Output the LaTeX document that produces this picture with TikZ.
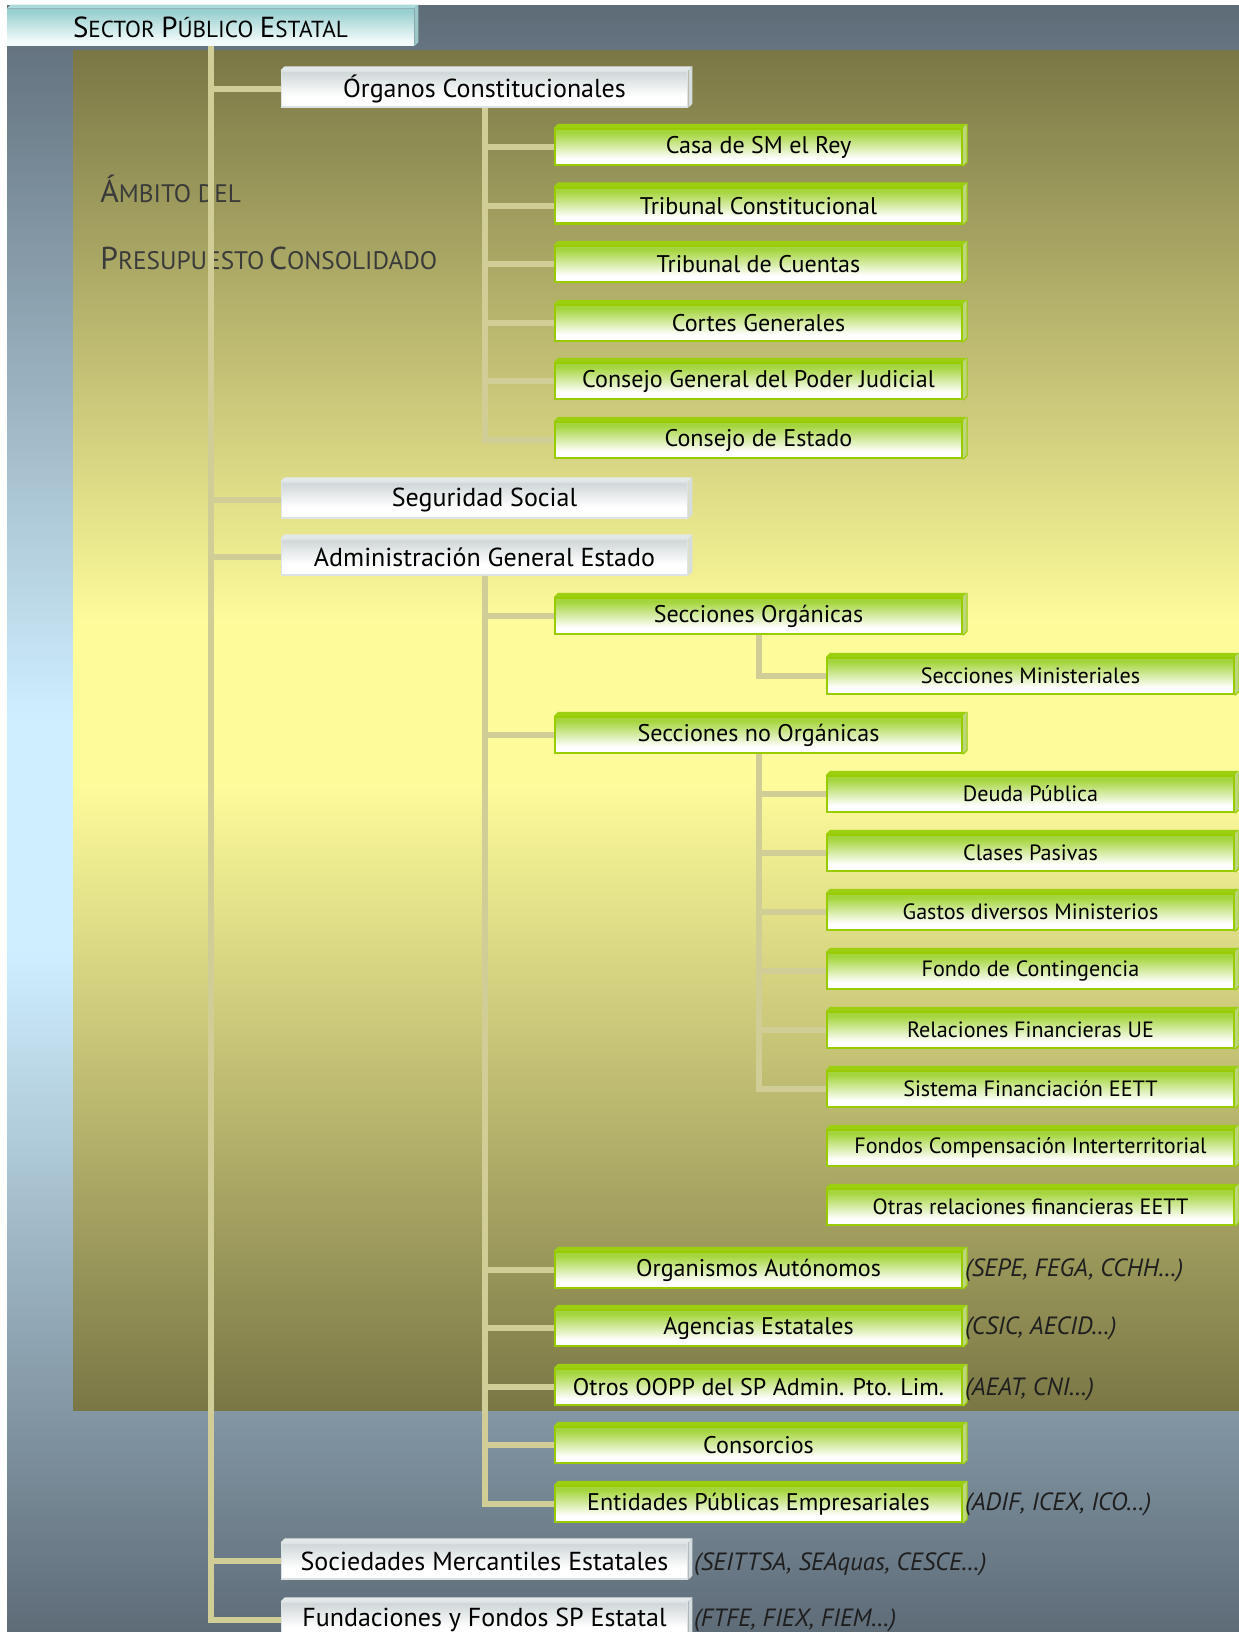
\documentclass[tikz,border=0pt]{standalone}
\usepackage{fontspec}
\setmainfont{PT Sans}
\definecolor{slate}{HTML}{5E6C78}
\definecolor{skyblue}{HTML}{CFEFFF}
\definecolor{olive}{HTML}{7A7746}
\definecolor{paleyellow}{HTML}{FDFB9A}
\definecolor{khaki}{HTML}{D0CD97}
\definecolor{leaf}{HTML}{99CC00}
\definecolor{leafpale}{HTML}{A5D53C}
\definecolor{leaftop}{HTML}{9BCF10}
\definecolor{leafside}{HTML}{BBD77A}
\definecolor{greyblue}{HTML}{D2D9DA}
\definecolor{greyline}{HTML}{DDE3E4}
\definecolor{greytop}{HTML}{E3E8E9}
\definecolor{greyside}{HTML}{D6DDDE}
\definecolor{teal}{HTML}{98CFCF}
\definecolor{tealpale}{HTML}{F2FAFA}
\definecolor{tealtop}{HTML}{ADDADA}
\definecolor{tealside}{HTML}{9CC8C8}
\definecolor{titlegrey}{HTML}{3A3A3A}
\definecolor{notegrey}{HTML}{1E1E1E}
\pgfdeclareverticalshading{framefade}{100bp}{color(0bp)=(slate); color(25bp)=(slate); color(46bp)=(skyblue); color(53bp)=(skyblue); color(75bp)=(slate); color(100bp)=(slate)}
\pgfdeclareverticalshading{ambitfade}{100bp}{color(0bp)=(olive); color(25bp)=(olive); color(48bp)=(paleyellow); color(54bp)=(paleyellow); color(75bp)=(olive); color(100bp)=(olive)}
\pgfdeclareverticalshading{greenfade}{100bp}{color(0bp)=(white); color(34bp)=(white); color(70bp)=(leafpale); color(100bp)=(leafpale)}
\pgfdeclareverticalshading{greyfade}{100bp}{color(0bp)=(white); color(40bp)=(white); color(72bp)=(greyblue); color(100bp)=(greyblue)}
\pgfdeclareverticalshading{tealfade}{100bp}{color(0bp)=(tealpale); color(32bp)=(tealpale); color(72bp)=(teal); color(100bp)=(teal)}
% fake small caps: big letter, rest, big size, small size
\newcommand{\scword}[4]{{\fontsize{#3}{#3}\selectfont#1}{\fontsize{#4}{#3}\selectfont#2}}
\begin{document}
\begin{tikzpicture}[x=0.02cm,y=-0.02cm,
  conn/.style={draw=khaki,line width=0.12cm},
  box/.style={minimum width=8.14cm,minimum height=0.72cm,inner sep=0pt,font=\fontsize{13.7}{15}\selectfont},
  hdr/.style={box,minimum height=0.74cm,shade,shading=tealfade},
  lvlone/.style={box,shade,shading=greyfade,draw=greyline,line width=0.6pt,font=\fontsize{14.8}{16}\selectfont},
  lvltwo/.style={box,shade,shading=greenfade,draw=leaf,line width=1.3pt},
  lvlthree/.style={lvltwo,font=\fontsize{12.6}{14}\selectfont},
  note/.style={anchor=base west,inner sep=0pt,font=\fontsize{14.2}{15}\selectfont\itshape,text=notegrey},
  ambit/.style={anchor=base west,inner sep=0pt,text=titlegrey}]
\useasboundingbox (0,0) rectangle (1239,1632);
% background
\fill[white] (0,0) rectangle (1239,1632);
\shade[shading=framefade] (7,6) rectangle (1239,1632);
\shade[shading=ambitfade] (73,51) rectangle (1239,1410);
\node[ambit] (ambit1) at (100,203) {\scword{Á}{MBITO DEL}{18}{14.4}};
\node[ambit] (ambit2) at (100,269) {\scword{P}{RESUPUESTO}{18}{14.4} \scword{C}{ONSOLIDADO}{18}{14.4}};
% level 0 and 1
\node[hdr] (spe) at (210.5,27.5) {\scword{S}{ECTOR}{16.5}{13.2} \scword{P}{ÚBLICO}{16.5}{13.2} \scword{E}{STATAL}{16.5}{13.2}};
\node[lvlone] (org) at (484.5,89) {Órganos Constitucionales};
\node[lvlone] (segsoc) at (484.5,500) {Seguridad Social};
\node[lvlone] (age) at (484.5,557) {Administración General Estado};
\node[lvlone] (soc) at (484.5,1561) {Sociedades Mercantiles Estatales};
\node[lvlone] (fund) at (484.5,1620) {Fundaciones y Fondos SP Estatal};
% level 2
\node[lvltwo] (casa) at (758.5,147) {Casa de SM el Rey};
\node[lvltwo] (tcons) at (758.5,205.6) {Tribunal Constitucional};
\node[lvltwo] (tcue) at (758.5,264) {Tribunal de Cuentas};
\node[lvltwo] (cortes) at (758.5,323) {Cortes Generales};
\node[lvltwo] (cgpj) at (758.5,381) {Consejo General del Poder Judicial};
\node[lvltwo] (cest) at (758.5,440) {Consejo de Estado};
\node[lvltwo] (secorg) at (758.5,616) {Secciones Orgánicas};
\node[lvltwo] (secno) at (758.5,735) {Secciones no Orgánicas};
\node[lvltwo] (oa) at (758.5,1270) {Organismos Autónomos};
\node[lvltwo] (ae) at (758.5,1328) {Agencias Estatales};
\node[lvltwo] (oopp) at (758.5,1387) {Otros OOPP del SP Admin. Pto. Lim.};
\node[lvltwo] (cons) at (758.5,1445) {Consorcios};
\node[lvltwo] (epe) at (758.5,1504) {Entidades Públicas Empresariales};
% level 3
\node[lvlthree] (secmin) at (1030.5,676) {Secciones Ministeriales};
\node[lvlthree] (deuda) at (1030.5,794) {Deuda Pública};
\node[lvlthree] (clases) at (1030.5,853) {Clases Pasivas};
\node[lvlthree] (gastos) at (1030.5,912) {Gastos diversos Ministerios};
\node[lvlthree] (fondo) at (1030.5,971) {Fondo de Contingencia};
\node[lvlthree] (rfue) at (1030.5,1030) {Relaciones Financieras UE};
\node[lvlthree] (sfin) at (1030.5,1089) {Sistema Financiación EETT};
\node[lvlthree] (fci) at (1030.5,1148) {Fondos Compensación Interterritorial};
\node[lvlthree] (otras) at (1030.5,1207) {Otras relaciones financieras EETT};
% bevels
\fill[tealtop] (spe.north west) -- ++(4,-4) -- ([shift={(4,-4)}]spe.north east) -- (spe.north east) -- cycle;
\fill[tealside] (spe.north east) -- ++(4,-4) -- ([shift={(4,-4)}]spe.south east) -- (spe.south east) -- cycle;
\foreach \n in {org,segsoc,age,soc,fund}{
  \fill[greytop] (\n.north west) -- ++(4,-4) -- ([shift={(4,-4)}]\n.north east) -- (\n.north east) -- cycle;
  \fill[greyside] (\n.north east) -- ++(4,-4) -- ([shift={(4,-4)}]\n.south east) -- (\n.south east) -- cycle;
}
\foreach \n in {casa,tcons,tcue,cortes,cgpj,cest,secorg,secno,oa,ae,oopp,cons,epe,
                secmin,deuda,clases,gastos,fondo,rfue,sfin,fci,otras}{
  \fill[leaftop] (\n.north west) -- ++(4,-4) -- ([shift={(4,-4)}]\n.north east) -- (\n.north east) -- cycle;
  \fill[leafside] (\n.north east) -- ++(4,-4) -- ([shift={(4,-4)}]\n.south east) -- (\n.south east) -- cycle;
  \draw[leaf,line width=0.6pt] ([shift={(4,-4)}]\n.north east) -- ([shift={(4,-4)}]\n.south east) -- (\n.south east);
}
% connectors
\foreach \n in {org,segsoc,age,soc,fund}
  \draw[conn] (spe.south) |- (\n.west);
\foreach \n in {casa,tcons,tcue,cortes,cgpj,cest}
  \draw[conn] (org.south) |- (\n.west);
\foreach \n in {secorg,secno,oa,ae,oopp,cons,epe}
  \draw[conn] (age.south) |- (\n.west);
\draw[conn] (secorg.south) |- (secmin.west);
\foreach \n in {deuda,clases,gastos,fondo,rfue,sfin}
  \draw[conn] (secno.south) |- (\n.west);
% notes
\node[note] (oanote) at ([xshift=1pt]oa.base east) {(SEPE, FEGA, CCHH…)};
\node[note] (aenote) at ([xshift=1pt]ae.base east) {(CSIC, AECID…)};
\node[note] (ooppnote) at ([xshift=1pt]oopp.base east) {(AEAT, CNI…)};
\node[note] (epenote) at ([xshift=1pt]epe.base east) {(ADIF, ICEX, ICO…)};
\node[note] (socnote) at ([xshift=3pt]soc.base east) {(SEITTSA, SEAquas, CESCE…)};
\node[note] (fundnote) at ([xshift=3pt]fund.base east) {(FTFE, FIEX, FIEM…)};
\end{tikzpicture}
\end{document}
